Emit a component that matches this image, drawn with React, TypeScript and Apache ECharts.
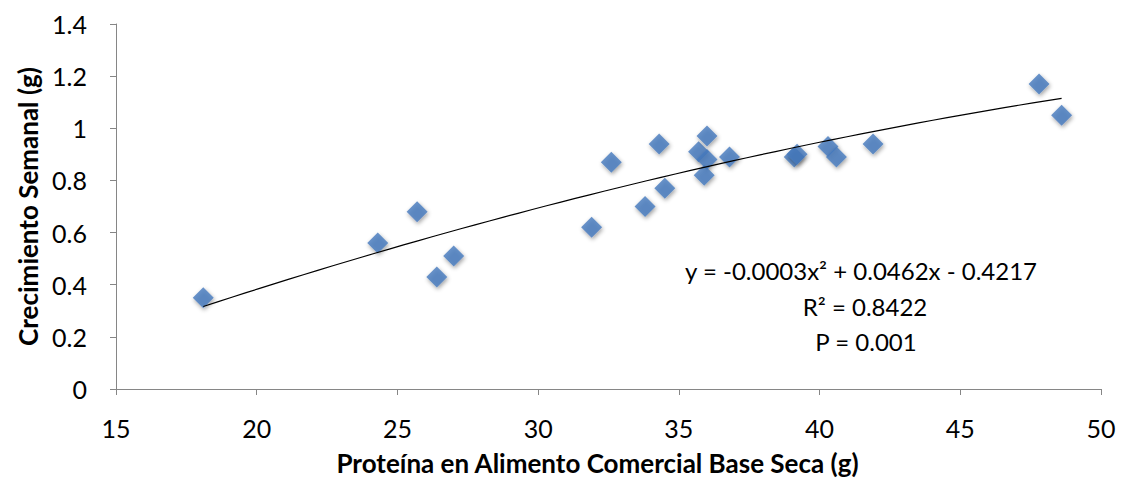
import React, { useEffect, useRef } from "react";
import * as echarts from "echarts";

const proteina = [18.1, 24.3, 25.7, 26.4, 27.0, 31.9, 32.6, 33.8, 34.3, 34.5, 35.7, 36.0, 36.0, 35.9, 36.8, 39.1, 39.2, 40.3, 40.6, 41.9, 47.8, 48.6];
const crecimiento = [0.35, 0.56, 0.68, 0.43, 0.51, 0.62, 0.87, 0.70, 0.94, 0.77, 0.91, 0.97, 0.88, 0.82, 0.89, 0.89, 0.90, 0.93, 0.89, 0.94, 1.17, 1.05];
const trendCoef = [-0.0003, 0.0462, -0.4217];
const trendRange = [18.1, 48.6];
const eqLines = ["y = -0.0003x\u00b2 + 0.0462x - 0.4217", "R\u00b2 = 0.8422", "P = 0.001"];

const FONT = "Lato, 'Open Sans', sans-serif";

export default function App() {
  const ref = useRef<HTMLDivElement>(null);
  useEffect(() => {
    if (!ref.current) return;
    const chart = echarts.init(ref.current, null, { renderer: "svg" });
    const trend: number[][] = [];
    const steps = 60;
    for (let i = 0; i <= steps; i++) {
      const x = trendRange[0] + ((trendRange[1] - trendRange[0]) * i) / steps;
      trend.push([x, trendCoef[0] * x * x + trendCoef[1] * x + trendCoef[2]]);
    }
    const axisLine = { show: true, lineStyle: { color: "#868686", width: 1 } };
    const eqY = [262, 298, 333];
    const eqX = [853, 857, 858];
    chart.setOption({
      animation: false,
      backgroundColor: "#ffffff",
      grid: { left: 108, right: 17, top: 16, bottom: 90, containLabel: false, outerBoundsMode: "none" },
      xAxis: {
        type: "value",
        min: 15,
        max: 50,
        interval: 5,
        axisLine,
        axisTick: { show: true, length: 6, lineStyle: { color: "#868686" } },
        splitLine: { show: false },
        axisLabel: { fontFamily: FONT, fontSize: 25, color: "#000", margin: 26 },
        name: "Proteína en Alimento Comercial Base Seca (g)",
        nameLocation: "middle",
        nameGap: 61,
        nameTextStyle: { fontFamily: FONT, fontSize: 26, fontWeight: "bold", color: "#000", padding: [0, 22, 0, 0] },
      },
      yAxis: {
        type: "value",
        min: 0,
        max: 1.4,
        interval: 0.2,
        axisLine,
        axisTick: { show: true, length: 6, lineStyle: { color: "#868686" } },
        splitLine: { show: false },
        axisLabel: { fontFamily: FONT, fontSize: 25, color: "#000", margin: 29, formatter: (v: number) => String(Math.round(v * 10) / 10) },
        name: "Crecimiento Semanal (g)",
        nameLocation: "middle",
        nameGap: 72,
        nameTextStyle: { fontFamily: FONT, fontSize: 26, fontWeight: "bold", color: "#000" },
      },
      series: [
        {
          type: "line",
          data: trend,
          showSymbol: false,
          symbol: "none",
          smooth: false,
          lineStyle: { color: "#000", width: 1.2 },
          z: 3,
        },
        {
          type: "scatter",
          data: proteina.map((x, i) => [x, crecimiento[i]]),
          symbol: "diamond",
          symbolSize: [21, 21],
          itemStyle: {
            color: "#4679bd",
            shadowColor: "rgba(0,0,0,0.45)",
            shadowBlur: 4,
            shadowOffsetX: 1,
            shadowOffsetY: 2,
          },
          z: 2,
        },
      ],
      graphic: eqLines.map((t, i) => ({
        type: "text",
        x: eqX[i],
        y: eqY[i],
        style: { text: t, fontFamily: FONT, fontSize: 24, fill: "#000", align: "center", verticalAlign: "middle" },
      })),
    });
    return () => chart.dispose();
  }, []);
  return <div ref={ref} style={{ width: 1110, height: 471 }} />;
}
